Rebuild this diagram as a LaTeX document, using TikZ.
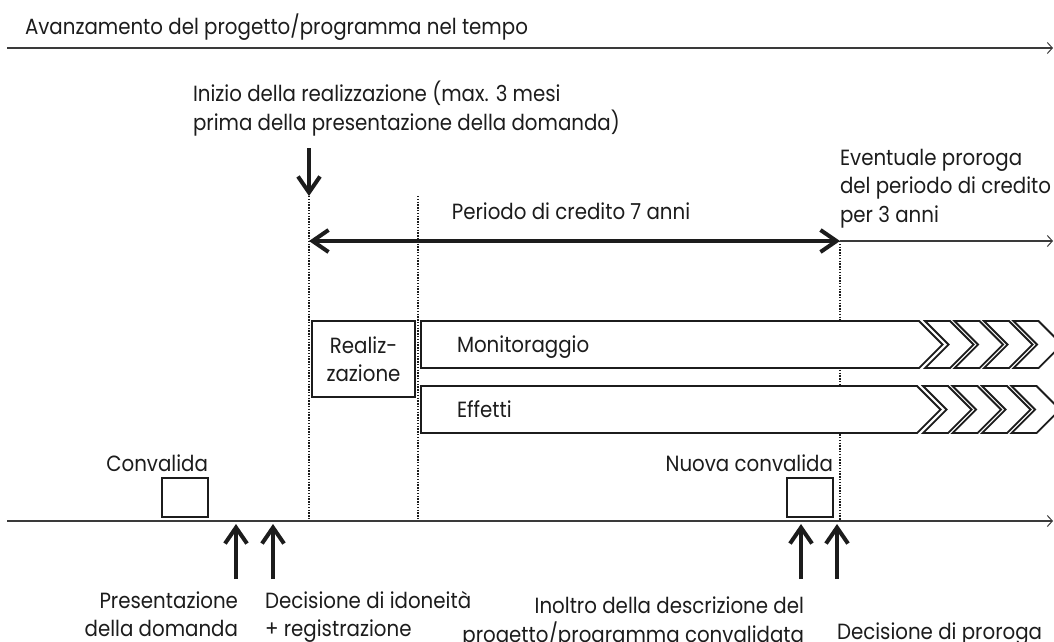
\documentclass[tikz,border=0pt]{standalone}
\usepackage{fontspec}
\setmainfont[FakeStretch=0.9]{Poppins}
\usetikzlibrary{arrows.meta}
\definecolor{ink}{HTML}{1C1C1C}
\definecolor{axis}{HTML}{3A3A3A}
\newcommand\mlines[2][l]{\begin{tabular}[t]{@{}#1@{}}#2\end{tabular}}
\begin{document}
\begin{tikzpicture}[x=1pt,y=-1pt,
  every node/.style={inner sep=0pt, outer sep=0pt, text=ink, font=\fontsize{22}{28.5}\selectfont},
  axisline/.style={draw=axis, line width=1.3pt, -{Straight Barb[length=5pt,width=11pt,line width=1pt]}},
  thickarrow/.style={draw=ink, line width=4pt, -{Straight Barb[length=16pt,width=22pt]}},
  guide/.style={draw=ink, line width=1.3pt, dash pattern=on 1.4pt off 1.4pt},
  boxline/.style={draw=ink, line width=1.8pt, fill=white, line join=miter},
]
\useasboundingbox (0,0) rectangle (1054,641);
\clip (0,0) rectangle (1054,641);

% top axis
\coordinate (t0) at (7,48);
\coordinate (t1) at (1053,48);
\draw[axisline] (t0) -- (t1);
\node[anchor=base west] (title) at (25,34) {Avanzamento del progetto/programma nel tempo};

% start of realisation
\node[anchor=base west] (inizio) at (193,101) {\mlines{Inizio della realizzazione (max. 3 mesi\\prima della presentazione della domanda)}};
\coordinate (d0) at (309,148);
\coordinate (g1t) at (309,196);
\coordinate (g1b) at (309,521);
\draw[thickarrow] (d0) -- (g1t);

% guides
\coordinate (g2t) at (418,196);
\coordinate (g2b) at (418,521);
\coordinate (p0) at (309,241);
\coordinate (p1) at (840,241);
\coordinate (g3b) at (840,521);
\coordinate (pe) at (1053,241);
\draw[guide] (g1t) -- (g1b);
\draw[guide] (g2t) -- (g2b);
\draw[guide] (p1) -- (g3b);

% credit period
\node[anchor=base] (periodo) at (571,219) {Periodo di credito 7 anni};
\draw[draw=ink, line width=4pt, {Straight Barb[length=16pt,width=22pt]}-{Straight Barb[length=16pt,width=22pt]}] (p0) -- (p1);
\draw[axisline] (p1) -- (pe);
\node[anchor=base west] (event) at (840,165) {\mlines{Eventuale proroga\\del periodo di credito\\per 3 anni}};

% realisation box
\node[boxline, minimum width=103pt, minimum height=76pt, anchor=north west, align=center] (real) at (312,321) {Realiz-\\zazione};

% bands with chevrons
\foreach \yt/\dx/\nm/\lab in {321/0/mon/Monitoraggio, 386/-2/eff/Effetti}{
  \draw[boxline] (421,\yt) -- ({919+\dx},\yt) -- ++(23.5,23.5) -- ++(-23.5,23.5) -- (421,\yt+47) -- cycle;
  \node[anchor=base west] (\nm) at (457,\yt+31) {\lab};
  \foreach \k in {0,...,3}{
    \draw[boxline] ({925+\dx+29.5*\k},\yt) -- ++(25,0) -- ++(23.5,23.5) -- ++(-23.5,23.5) -- ++(-25,0) -- ++(23.5,-23.5) -- cycle;
  }
}

% bottom axis
\coordinate (b0) at (7,521);
\coordinate (b1) at (1053,521);
\draw[axisline] (b0) -- (b1);

% validations
\node[boxline, minimum width=46pt, minimum height=39pt, anchor=south east] (cbox) at (208,517) {};
\node[anchor=base east] (conv) at (208,471) {Convalida};
\node[boxline, minimum width=46pt, minimum height=39pt, anchor=south east] (nbox) at (833,517) {};
\node[anchor=base east] (nconv) at (833,471) {Nuova convalida};

% milestone arrows
\foreach \n/\xx in {a/236, b/273, c/801, d/837}{
  \coordinate (\n0) at (\xx,579);
  \coordinate (\n1) at (\xx,524);
  \draw[thickarrow] (\n0) -- (\n1);
}

% milestone labels
\node[anchor=base east] (pres) at (238,608) {\mlines[r]{Presentazione\\della domanda}};
\node[anchor=base west] (idon) at (265,608) {\mlines{Decisione di idoneità\\+ registrazione}};
\node[anchor=base east] (inol) at (804,613) {\mlines[r]{Inoltro della descrizione del\\progetto/programma convalidata}};
\node[anchor=base west] (prog) at (837,639) {Decisione di proroga};
\end{tikzpicture}
\end{document}
